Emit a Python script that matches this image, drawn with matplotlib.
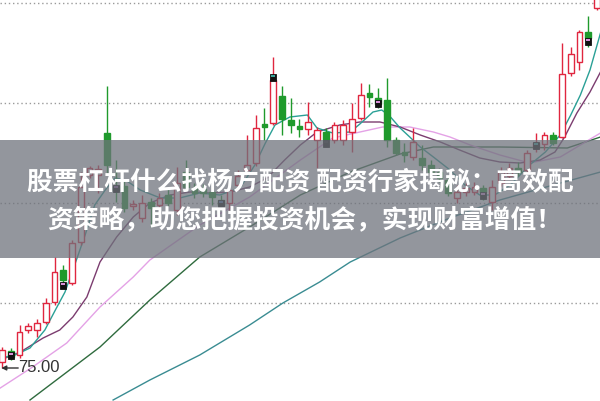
import matplotlib
matplotlib.use("Agg")
import matplotlib.pyplot as plt
from matplotlib.patches import Rectangle

# ---- candle data (open, close, high, low) ----
opens  = [75.30,75.85,75.65,76.90,76.90,77.30,78.30,79.90,79.25,81.30,84.65,84.65,86.75,84.10,84.10,83.10,82.50,83.30,83.15,83.65,
          82.90,84.80,84.00,83.95,83.80,83.40,83.25,84.15,84.90,85.25,87.20,87.25,88.60,87.40,87.10,86.95,86.40,86.80,86.40,86.40,
          86.80,87.50,88.75,88.50,88.40,86.40,85.80,85.55,85.50,85.15,84.80,84.40,83.50,83.80,83.80,84.00,83.30,84.25,84.60,85.00,
          84.90,86.00,86.20,86.65,86.55,89.75,90.30,91.80,93.00]
closes = [75.90,75.55,76.80,77.10,77.25,78.25,79.80,79.40,81.25,84.05,85.00,84.95,85.15,83.90,83.00,83.20,83.25,83.00,83.50,83.25,
          84.25,84.05,83.75,83.75,83.55,83.15,83.90,84.60,85.15,87.00,87.05,89.40,87.45,87.15,86.95,87.30,86.90,86.40,87.15,87.15,
          87.45,88.65,88.55,88.20,86.40,85.75,85.65,86.30,85.15,84.80,84.50,83.75,83.80,84.00,84.05,83.80,84.05,84.80,85.00,84.80,
          85.75,86.25,86.65,86.25,89.70,90.70,91.80,91.50,93.90]
highs  = [76.05,76.00,77.15,77.25,77.45,78.50,80.55,80.15,81.40,84.80,85.10,85.15,89.10,85.40,84.40,83.40,83.65,83.50,83.75,84.00,
          85.05,85.40,84.25,84.20,84.05,83.65,84.15,84.90,86.65,87.65,88.00,90.55,89.10,88.50,87.45,88.30,87.05,87.00,87.30,87.40,
          88.25,89.25,89.20,89.00,89.50,86.55,86.25,87.00,86.15,85.40,85.00,84.60,84.15,84.25,84.30,84.15,84.40,85.05,85.25,85.30,
          85.90,86.75,86.80,86.80,91.25,91.05,91.90,92.60,94.15]
lows   = [75.00,75.40,75.50,76.75,76.55,77.20,78.15,79.00,79.15,81.15,84.50,83.75,84.65,83.30,82.80,82.90,82.30,82.05,82.90,83.10,
          82.65,83.90,83.50,83.55,83.15,83.00,82.90,83.90,84.80,85.10,86.40,87.15,86.65,86.75,86.55,86.65,85.00,86.10,86.25,86.15,
          85.80,87.40,88.05,88.00,86.05,85.65,85.30,85.40,84.90,84.70,84.30,83.60,83.25,83.60,83.65,83.40,82.90,84.10,84.45,84.60,
          84.80,85.80,85.90,86.15,86.50,89.60,89.90,91.05,92.90]

# signal markers on some candles: (index, top price, inner colour)
marker_idx   = [1, 7, 13, 25, 31, 37, 43, 55, 61, 67]
marker_top   = [75.80, 79.30, 84.15, 83.40, 89.70, 86.40, 88.40, 83.80, 86.30, 91.50]
marker_inner = ['#d890d8', '#d890d8', '#8a5a9a', '#4a6fa0', '#3aa39a', '#222222', '#d890d8', '#d890d8', '#3aa39a', '#d890d8']

# ---- moving-average lines: (position, price) ----
ma5_x = [-0.2,1.5,3.2,4.9,6.1,7.2,8.3,9.5,10.6,11.8,12.9,14.1,15.8,18.1,20.3,22.6,24.9,27.2,28.9,30.1,31.2,32.9,34.9,36.0,37.8,
         39.8,40.9,42.4,43.4,44.3,45.5,46.6,47.8,49.3,51.2,52.9,54.6,56.3,58.1,59.2,60.3,62.1,63.8,65.0,66.1,67.2,68.4]
ma5_y = [75.5,75.65,76.0,76.9,77.9,78.8,80.15,81.65,83.15,83.9,84.5,84.4,83.9,83.5,83.5,83.75,83.65,84.0,85.15,86.25,87.15,87.55,
         87.65,87.0,86.75,86.8,87.2,87.8,87.9,87.6,87.0,86.55,86.05,85.55,84.9,84.15,83.65,83.65,84.15,84.65,85.15,85.8,86.65,
         87.65,88.65,89.9,91.75]
ma10_x = [-0.2,2.1,4.7,6.6,8.1,9.7,11.2,13.1,15.0,16.9,19.2,21.5,23.8,26.1,28.3,30.3,32.3,34.1,36.0,38.6,40.9,43.2,45.5,47.8,
          50.1,52.3,54.6,56.9,59.2,61.5,63.2,64.3,65.7,67.2,68.4]
ma10_y = [75.4,75.8,76.5,76.9,77.55,78.55,80.3,81.55,82.55,83.25,83.65,83.8,83.75,83.8,84.05,84.5,85.4,86.15,86.8,87.15,87.3,
          87.3,87.05,86.65,86.3,85.9,85.5,85.3,85.25,85.4,85.8,86.55,87.75,88.8,89.8]
ma20_x = [-0.2,3.5,7.4,11.2,15.0,16.9,22.6,28.3,34.1,37.8,43.5,46.6,49.3,51.2,53.5,56.9,60.3,63.8,68.4]
ma20_y = [74.0,75.05,76.25,78.05,79.55,80.4,82.15,83.55,85.4,86.5,87.05,87.05,86.8,86.55,86.15,85.65,85.25,85.55,86.75]
ma30_x = [3.2,11.2,16.9,22.6,28.3,34.1,39.8,45.5,49.3,56.9,64.6,68.4]
ma30_y = [73.4,76.05,78.4,80.55,82.05,83.65,84.8,85.7,86.05,86.05,86.0,86.55]
ma60_x = [12.7,16.9,22.6,28.3,32.1,36.3,39.8,45.5,51.2,56.9,62.6,68.4]
ma60_y = [73.4,74.4,75.65,77.15,78.25,79.3,80.3,81.5,82.5,83.4,84.1,84.8]

grid_levels = [93.25, 88.25, 83.25, 78.25]
low_label = "75.00"
low_price = 75.00
title_line1 = "股票杠杆什么找杨方配资 配资行家揭秘：高效配"
title_line2 = "资策略，助您把握投资机会，实现财富增值！"

UP = '#e0263f'
DOWN = '#1f9a2c'

fig = plt.figure(figsize=(6, 4.01), dpi=100)
ax = fig.add_axes([0, 0, 1, 1])
ax.set_xlim(-0.2286, 68.343)
ax.set_ylim(73.35, 93.40)
ax.axis('off')

for g in grid_levels:
    ax.axhline(g, color='#9a9a9a', lw=1.0, ls=(0, (1, 2)), zorder=1)

ax.plot(ma60_x, ma60_y, color='#3a8c92', lw=1.0, zorder=2)
ax.plot(ma30_x, ma30_y, color='#2f6b3e', lw=1.0, zorder=2)
ax.plot(ma20_x, ma20_y, color='#e4a2e6', lw=1.0, zorder=2)
ax.plot(ma10_x, ma10_y, color='#7b3c6f', lw=1.0, zorder=2)
ax.plot(ma5_x, ma5_y, color='#2aa096', lw=1.0, zorder=2)

w = 0.68
for i, (o, c, h, l) in enumerate(zip(opens, closes, highs, lows)):
    top, bot = max(o, c), min(o, c)
    up = c >= o
    col = UP if up else DOWN
    ax.vlines(i, top, h, color=col, lw=1.0, zorder=3)
    ax.vlines(i, l, bot, color=col, lw=1.0, zorder=3)
    ax.add_patch(Rectangle((i - w / 2, bot), w, max(top - bot, 0.04),
                           facecolor='white' if up else col, edgecolor=col, lw=1.0, zorder=4))

for i, t, ic in zip(marker_idx, marker_top, marker_inner):
    ax.add_patch(Rectangle((i - 0.36, t - 0.33), 0.72, 0.33, facecolor='#111111', edgecolor='#111111', lw=0.6, zorder=5))
    ax.add_patch(Rectangle((i - 0.24, t - 0.17), 0.48, 0.13, facecolor=ic, edgecolor='none', zorder=6))

# low price label with arrow
ax.annotate('', xy=(-0.08, low_price), xytext=(1.85, low_price),
            arrowprops=dict(arrowstyle='-|>', color='#333333', lw=1.0, mutation_scale=7,
                            shrinkA=0, shrinkB=0), zorder=7)
ax.text(1.8, low_price, low_label, fontsize=12, color='#333333', va='center', ha='left',
        family=['Liberation Sans', 'DejaVu Sans'], zorder=7)

# banner overlay
fig.patches.append(Rectangle((0, 1 - 258 / 401), 1, 118 / 401, transform=fig.transFigure,
                             facecolor='#6f737c', alpha=0.75, edgecolor='none', zorder=10))
fig.text(0.5, 1 - 183 / 401, title_line1, fontsize=18.5, color='white', fontweight='bold',
         ha='center', va='center', family=['Noto Sans CJK SC', 'DejaVu Sans'], zorder=11)
fig.text(0.508, 1 - 220 / 401, title_line2, fontsize=18.5, color='white', fontweight='bold',
         ha='center', va='center', family=['Noto Sans CJK SC', 'DejaVu Sans'], zorder=11)

fig.savefig('out.png', dpi=100)
